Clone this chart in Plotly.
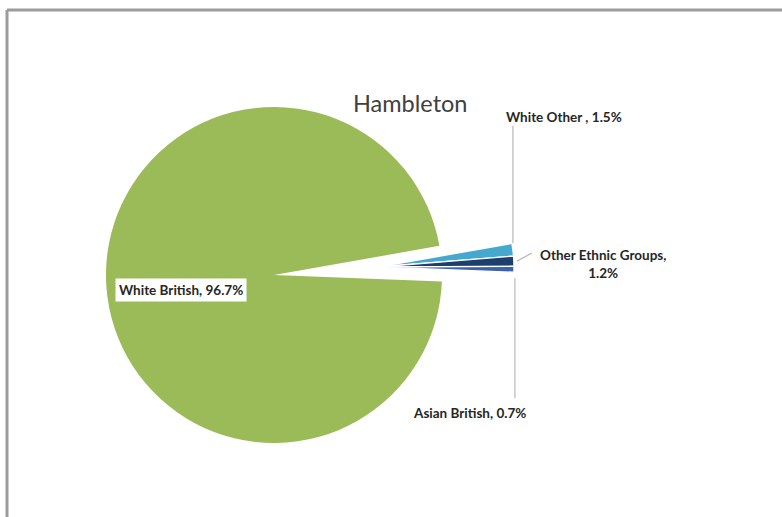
import math
import plotly.graph_objects as go

# Ethnic composition of Hambleton (% of population)
groups = ["White Other", "Other Ethnic Groups", "Asian British", "White British"]
shares = [1.5, 1.2, 0.7, 96.7]
label_text = ["White Other , 1.5%", "Other Ethnic Groups,<br>1.2%",
              "Asian British, 0.7%", "White British, 96.7%"]
slice_colors = ["#45A9CF", "#1C3F6E", "#3D62AA", "#9BBB59"]

W, H = 782, 517
ROTATION = 80  # start angle of the first slice, degrees clockwise from 12 o'clock

# main pie (pixel centre/radius) and the exploded group of minority slices
CX, CY, R = 274, 275, 168
EX, EY, R2 = 378, 267, 136

def px_x(x):
    return x / W

def px_y(y):
    return 1 - y / H

def domain(cx, cy, r):
    return dict(x=[px_x(cx - r), px_x(cx + r)], y=[px_y(cy + r), px_y(cy - r)])

transparent = "rgba(0,0,0,0)"
n = len(groups)
main_colors = [transparent] * (n - 1) + [slice_colors[-1]]
exploded_colors = slice_colors[:-1] + [transparent]

fig = go.Figure()
fig.add_trace(go.Pie(
    labels=groups, values=shares, sort=False, direction="clockwise",
    rotation=ROTATION, textinfo="none", hoverinfo="skip", showlegend=False,
    marker=dict(colors=main_colors, line=dict(width=0)),
    domain=domain(CX, CY, R),
))
fig.add_trace(go.Pie(
    labels=groups, values=shares, sort=False, direction="clockwise",
    rotation=ROTATION, textinfo="none", hoverinfo="skip", showlegend=False,
    marker=dict(colors=exploded_colors,
                line=dict(color="white", width=[1.4, 1.4, 1.4, 0])),
    domain=domain(EX, EY, R2),
))

# slice boundary angles (degrees clockwise from 12 o'clock)
total = sum(shares)
bounds = [ROTATION]
for v in shares:
    bounds.append(bounds[-1] + 360 * v / total)

def outer_point(angle, extra=0):
    a = math.radians(angle)
    return EX + (R2 + extra) * math.sin(a), EY - (R2 + extra) * math.cos(a)

line_style = dict(color="#BDBDBD", width=1.3)
shapes = []

# leader for White Other: up from the top of its slice
x0, y0 = outer_point(bounds[0], 1)
shapes.append(dict(type="line", xref="paper", yref="paper",
                   x0=px_x(x0), y0=px_y(y0), x1=px_x(x0), y1=px_y(126), line=line_style))
# leader for Asian British: down from the bottom of its slice
x2, y2 = outer_point(bounds[3], 1)
shapes.append(dict(type="line", xref="paper", yref="paper",
                   x0=px_x(x2), y0=px_y(y2 + 6), x1=px_x(x2), y1=px_y(398), line=line_style))
# leader for Other Ethnic Groups: short diagonal from its slice midpoint
x1, y1 = outer_point((bounds[1] + bounds[2]) / 2, 3)
shapes.append(dict(type="line", xref="paper", yref="paper",
                   x0=px_x(x1), y0=px_y(y1), x1=px_x(x1 + 15), y1=px_y(y1 - 8), line=line_style))

# chart frame
frame = dict(color="#9C9C9C", width=3)
shapes.append(dict(type="line", xref="paper", yref="paper",
                   x0=px_x(7), y0=px_y(10), x1=1.0, y1=px_y(10), line=frame))
shapes.append(dict(type="line", xref="paper", yref="paper",
                   x0=px_x(7), y0=px_y(10), x1=px_x(7), y1=0.0, line=frame))

label_font = dict(family="Lato, Arial, sans-serif", size=13.5, color="#262626")
label_pos = [(564, 117), (603, 264), (469, 413), (181, 290)]
annotations = []
for i, (txt, (lx, ly)) in enumerate(zip(label_text, label_pos)):
    ann = dict(text=f"<b>{txt}</b>", x=px_x(lx), y=px_y(ly), xref="paper", yref="paper",
               showarrow=False, xanchor="center", yanchor="middle", font=label_font,
               align="center")
    if i == n - 1:
        ann.update(bgcolor="white", borderpad=3)
    annotations.append(ann)

annotations.append(dict(text="Hambleton", x=px_x(410), y=px_y(103), xref="paper", yref="paper",
                        showarrow=False, xanchor="center", yanchor="middle",
                        font=dict(family="Lato, Arial, sans-serif", size=23.5, color="#404040")))

fig.update_layout(
    width=W, height=H, margin=dict(l=0, r=0, t=0, b=0),
    paper_bgcolor="white", plot_bgcolor="white",
    shapes=shapes, annotations=annotations, showlegend=False,
)

fig.write_html("out.html")
